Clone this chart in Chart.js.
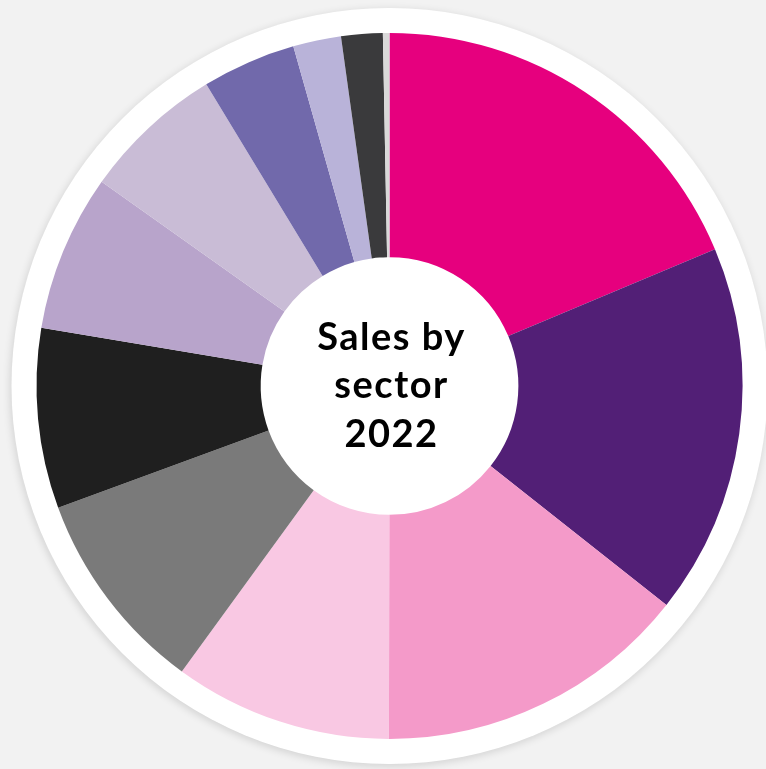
<!DOCTYPE html>
<html>
<head>
<meta charset="utf-8">
<script src="https://cdn.jsdelivr.net/npm/chart.js@4.4.0/dist/chart.umd.min.js"></script>
<style>
  html, body { margin: 0; padding: 0; background: #f2f2f2; }
  #wrap { width: 766px; height: 769px; position: relative; }
</style>
</head>
<body>
<div id="wrap"><canvas id="sales"></canvas></div>
<script>
// Share of sales per sector, percent
const sectors = ["Sector A", "Sector B", "Sector C", "Sector D", "Sector E", "Sector F",
                 "Sector G", "Sector H", "Sector I", "Sector J", "Sector K", "Sector L"];
const shares = [18.7, 17.0, 14.4, 10.0, 9.4, 8.25, 7.2, 6.5, 4.3, 2.2, 1.9, 0.3];
const sliceColors = ["#e6007e", "#521f76", "#f49ac9", "#f9c8e3", "#7a7a7a", "#1f1f1f",
                     "#b8a4cb", "#c9bcd6", "#7169ab", "#b9b3d9", "#3a3a3c", "#d9d9d9"];
const centerLines = ["Sales by", "sector", "2022"];

// white disc with a soft shadow behind the ring, also fills the hole
const backdrop = {
    id: 'backdrop',
    beforeDatasetsDraw(chart) {
        const arc = chart.getDatasetMeta(0).data[0];
        if (!arc) return;
        const ctx = chart.ctx;
        ctx.save();
        ctx.beginPath();
        ctx.arc(arc.x, arc.y, arc.outerRadius + 25, 0, Math.PI * 2);
        ctx.fillStyle = "#ffffff";
        ctx.shadowColor = "rgba(0,0,0,0.14)";
        ctx.shadowBlur = 8;
        ctx.shadowOffsetX = -1;
        ctx.shadowOffsetY = 2;
        ctx.fill();
        ctx.restore();
    },
    afterDatasetsDraw(chart) {
        const arc = chart.getDatasetMeta(0).data[0];
        if (!arc) return;
        const ctx = chart.ctx;
        ctx.save();
        ctx.fillStyle = "#000000";
        ctx.font = "bold 38px Lato, 'DejaVu Sans', sans-serif";
        ctx.letterSpacing = "1.5px";
        ctx.textAlign = "center";
        ctx.textBaseline = "alphabetic";
        const baselines = [-36, 12, 61];
        centerLines.forEach((t, i) => ctx.fillText(t, arc.x + 2, arc.y + baselines[i]));
        ctx.restore();
    }
};

const ctx = document.getElementById("sales").getContext("2d");
new Chart(ctx, {
    type: 'doughnut',
    data: {
        labels: sectors,
        datasets: [{
            data: shares,
            backgroundColor: sliceColors,
            borderWidth: 0
        }]
    },
    options: {
        responsive: true,
        maintainAspectRatio: false,
        animation: false,
        cutout: '36.5%',
        layout: { padding: { left: 36.5, right: 23.5, top: 33, bottom: 30 } },
        plugins: {
            legend: { display: false },
            tooltip: { enabled: false }
        }
    },
    plugins: [backdrop]
});
</script>
</body>
</html>
